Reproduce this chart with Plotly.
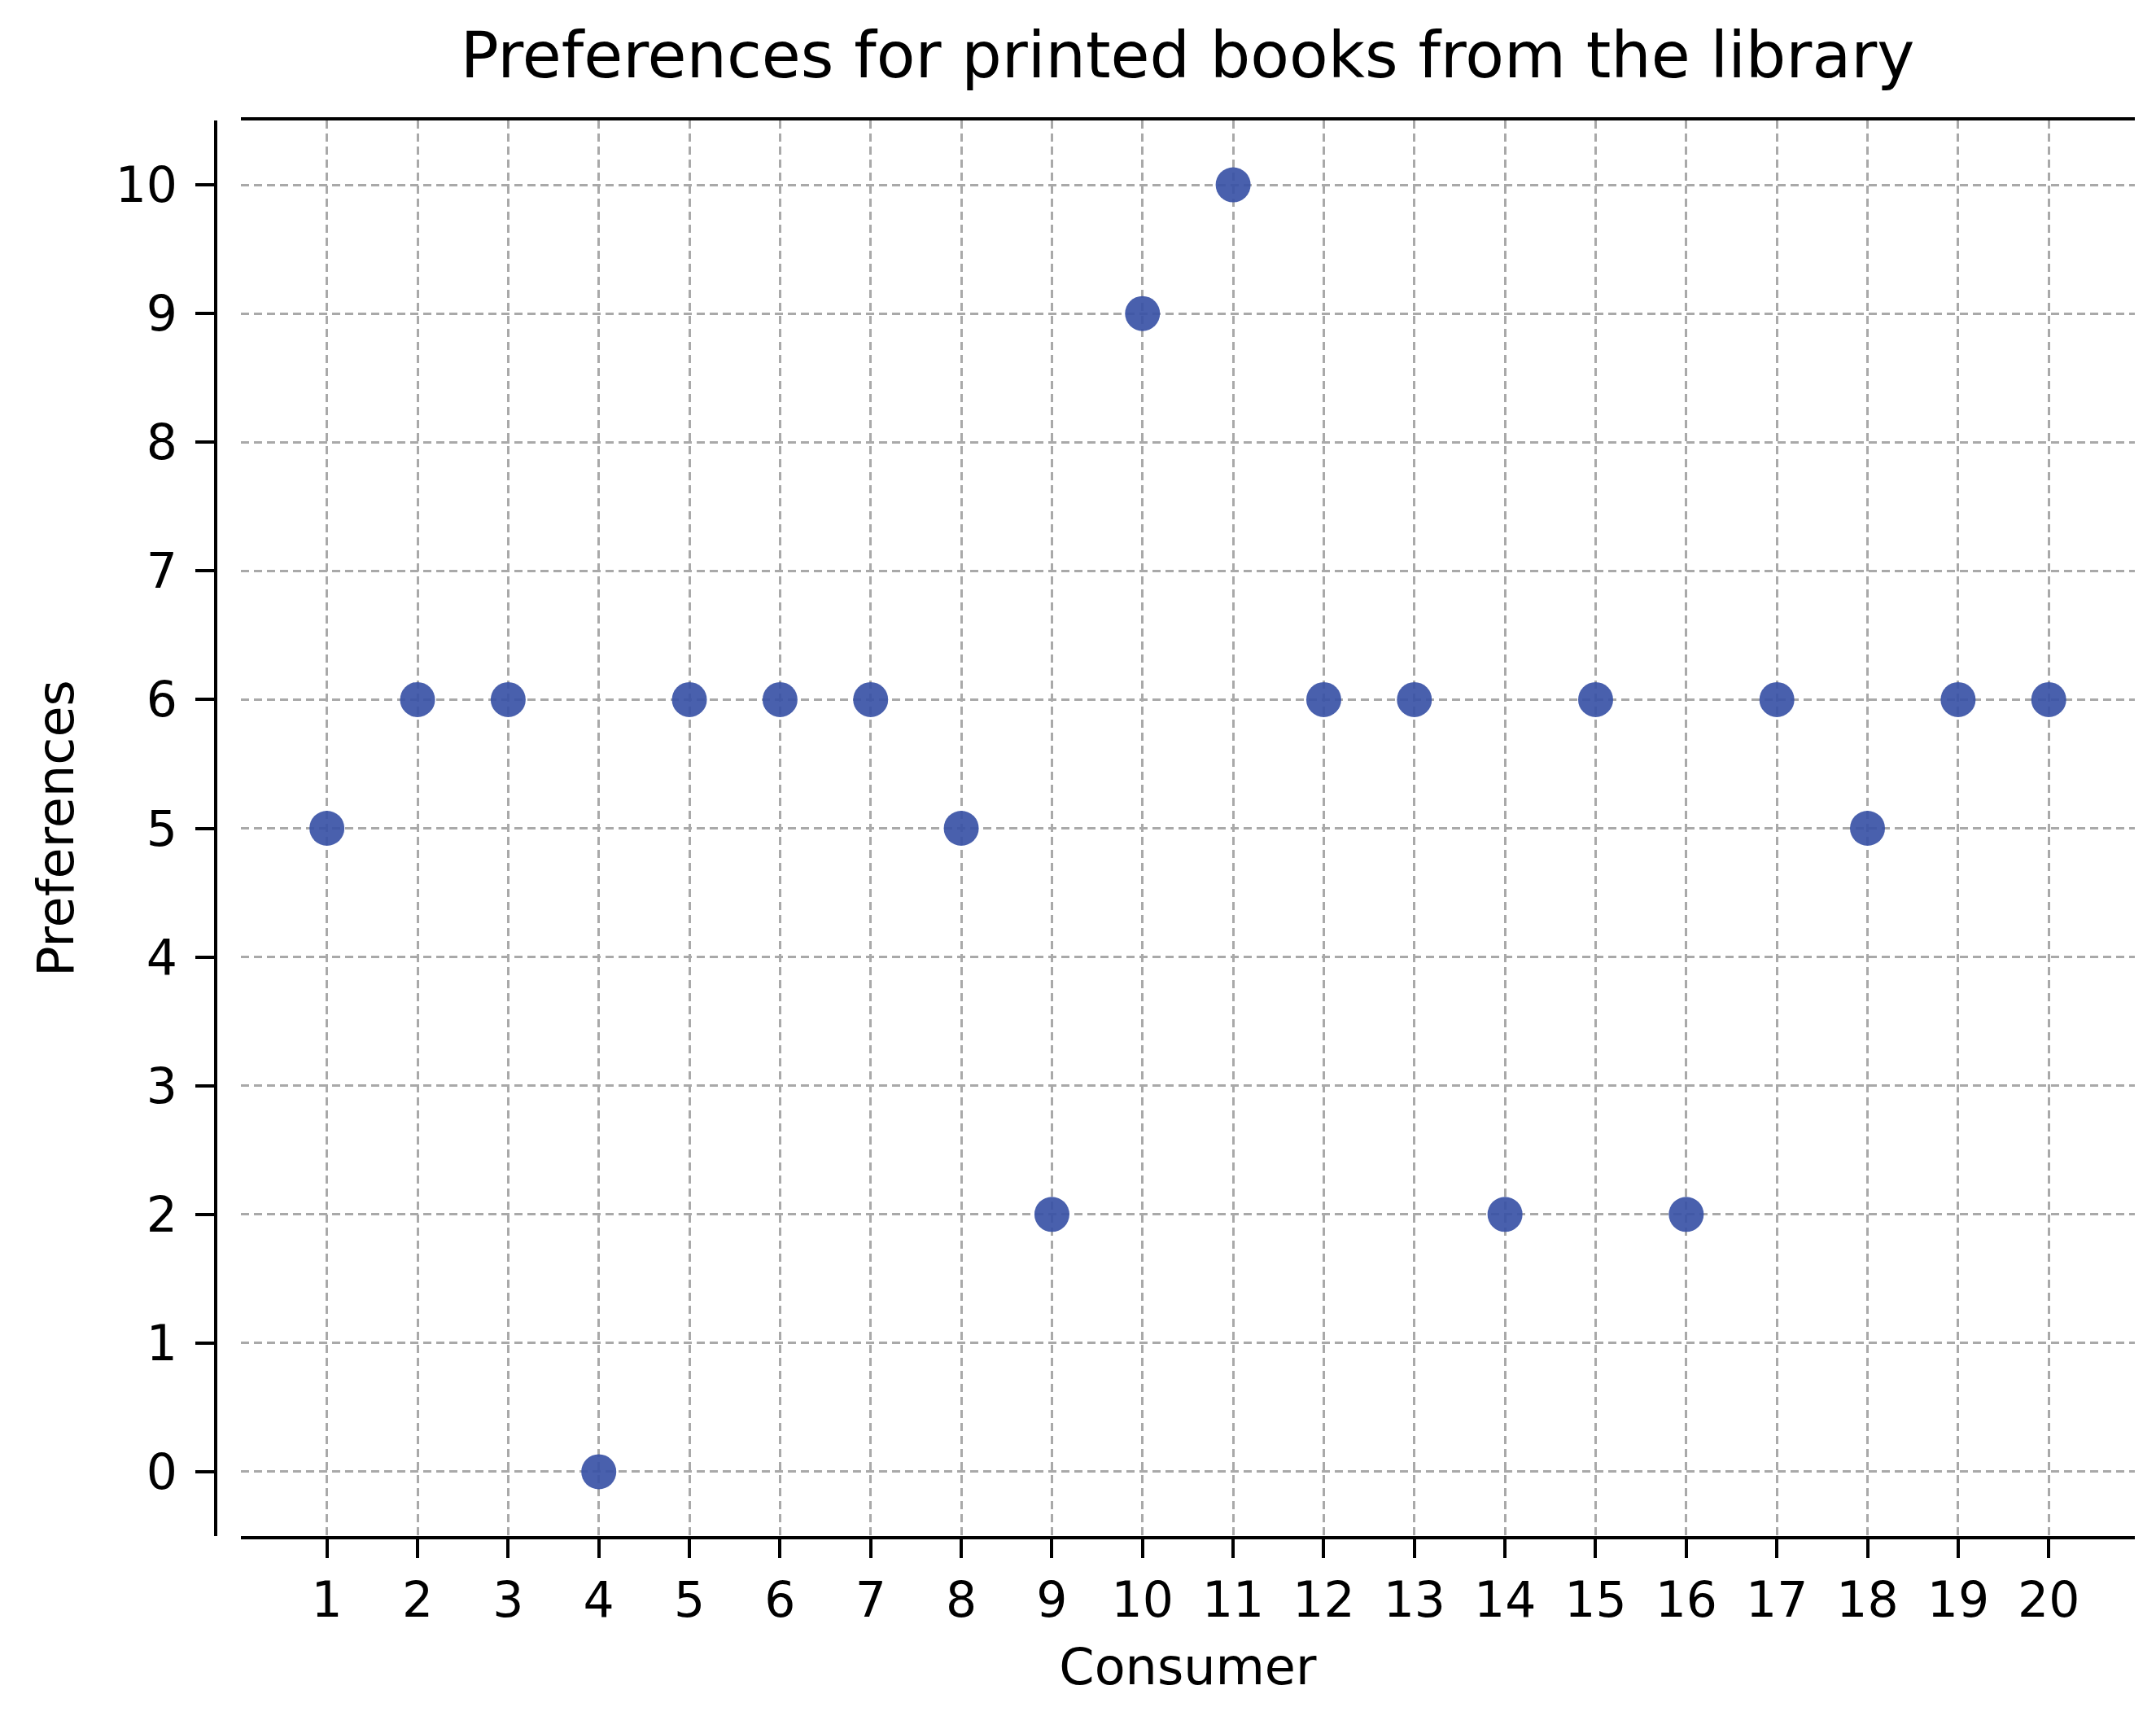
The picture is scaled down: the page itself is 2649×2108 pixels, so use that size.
import plotly.graph_objects as go

consumers = list(range(1, 21))
preferences = [5, 6, 6, 0, 6, 6, 6, 5, 2, 9, 10, 6, 6, 2, 6, 2, 6, 5, 6, 6]
y_ticks = list(range(0, 11))

fig = go.Figure()
fig.add_trace(go.Scatter(
    x=consumers, y=preferences, mode="markers",
    marker=dict(size=43, color="#3a52a6", opacity=0.92, line=dict(width=0)),
    showlegend=False,
))

axis_common = dict(
    showline=True, linecolor="black", linewidth=4,
    ticks="outside", ticklen=23, tickwidth=4, tickcolor="black",
    showgrid=True, gridcolor="#a9a9a9", gridwidth=3, griddash="10px,6px",
    zeroline=False,
    tickfont=dict(family="DejaVu Sans", size=60, color="black"),
)

fig.update_layout(
    width=2649, height=2108,
    paper_bgcolor="white", plot_bgcolor="white",
    margin=dict(l=257, r=34, t=140, b=229),
    title=dict(
        text="Preferences for printed books from the library",
        xref="paper", x=0.5064, xanchor="center", y=0.9715, yanchor="middle",
        font=dict(family="DejaVu Sans", size=78, color="black"),
    ),
    xaxis=dict(
        axis_common, domain=[0.0131, 1], range=[0.05, 20.95],
        tickvals=consumers, mirror=True,
        title=dict(text="Consumer", standoff=28,
                   font=dict(family="DejaVu Sans", size=62, color="black")),
    ),
    yaxis=dict(
        axis_common, range=[-0.5, 10.5], tickvals=y_ticks,
        anchor="free", position=0, ticklabelstandoff=10,
        title=dict(text="Preferences", standoff=30,
                   font=dict(family="DejaVu Sans", size=62, color="black")),
    ),
)

fig.write_html("out.html")
